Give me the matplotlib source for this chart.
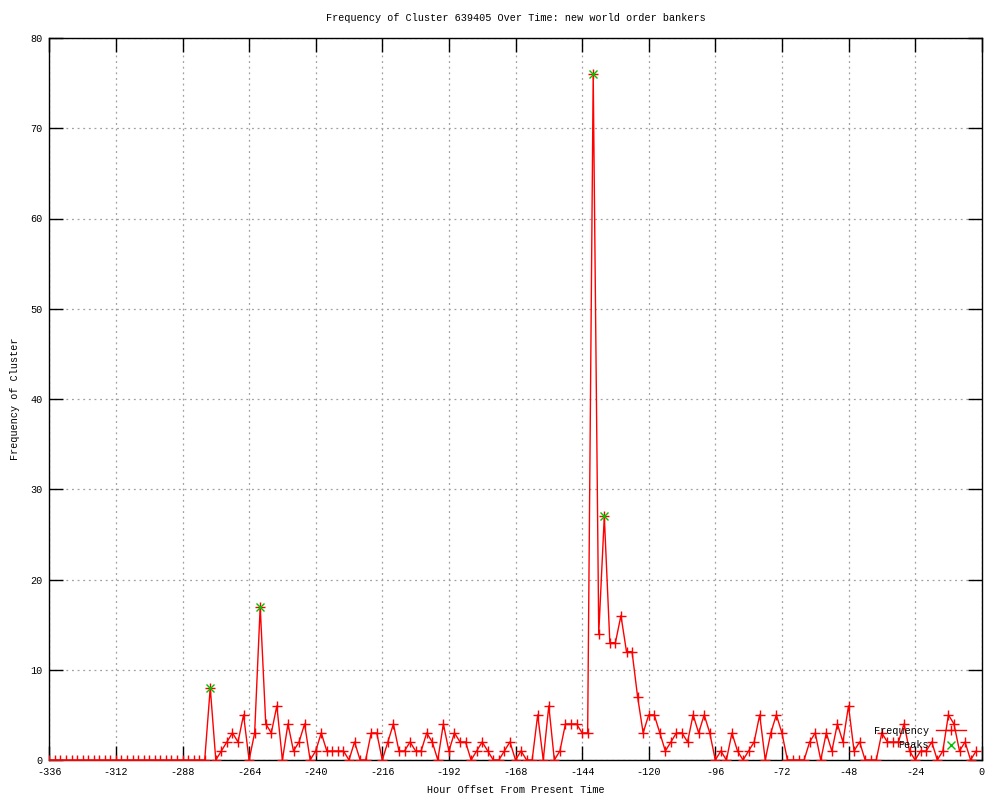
import numpy as np
import matplotlib

matplotlib.use("Agg")
import matplotlib.pyplot as plt


# hour offsets, one bin every 2 hours
hours = np.arange(-336, 0, 2)

# cluster frequency per bin, one row per 24 h
freq = [
    0, 0, 0, 0, 0, 0, 0, 0, 0, 0, 0, 0,          # -336 .. -314
    0, 0, 0, 0, 0, 0, 0, 0, 0, 0, 0, 0,          # -312 .. -290
    0, 0, 0, 0, 0, 8, 0, 1, 2, 3, 2, 5,          # -288 .. -266
    0, 3, 17, 4, 3, 6, 0, 4, 1, 2, 4, 0,         # -264 .. -242
    1, 3, 1, 1, 1, 1, 0, 2, 0, 0, 3, 3,          # -240 .. -218
    0, 2, 4, 1, 1, 2, 1, 1, 3, 2, 0, 4,          # -216 .. -194
    1, 3, 2, 2, 0, 1, 2, 1, 0, 0, 1, 2,          # -192 .. -170
    0, 1, 0, 0, 5, 0, 6, 0, 1, 4, 4, 4,          # -168 .. -146
    3, 3, 76, 14, 27, 13, 13, 16, 12, 12, 7, 3,  # -144 .. -122
    5, 5, 3, 1, 2, 3, 3, 2, 5, 3, 5, 3,          # -120 .. -98
    0, 1, 0, 3, 1, 0, 1, 2, 5, 0, 3, 5,          # -96 .. -74
    3, 0, 0, 0, 0, 2, 3, 0, 3, 1, 4, 2,          # -72 .. -50
    6, 1, 2, 0, 0, 0, 3, 2, 2, 2, 4, 1,          # -48 .. -26
    0, 1, 1, 2, 0, 1, 5, 4, 1, 2, 0, 1,          # -24 .. -2
]

peak_hours = [-278, -260, -140, -136]
peak_freq = [8, 17, 76, 27]

x_ticks = np.arange(-336, 1, 24)
y_ticks = np.arange(0, 81, 10)

plt.rcParams["font.family"] = ["Liberation Mono", "DejaVu Sans Mono"]
plt.rcParams["font.size"] = 7.3
plt.rcParams["axes.unicode_minus"] = False

fig = plt.figure(figsize=(10, 8), dpi=100)
ax = fig.add_axes([0.0493, 0.05, 0.9324, 0.9025])

ax.plot(hours, freq, color="red", lw=1.0, marker="+", ms=7, mew=1.0,
        label="Frequency", zorder=3)
ax.plot(peak_hours, peak_freq, ls="none", color="#00c000", marker="x", ms=6,
        mew=1.0, label="Peaks", zorder=4)

ax.set_xlim(-336, 0)
ax.set_ylim(0, 80)
ax.set_xticks(x_ticks)
ax.set_yticks(y_ticks)
ax.tick_params(direction="in", length=10, width=1.0, top=True, right=True,
               pad=5, colors="black")
ax.grid(True, color="#a0a0a0", ls=(0, (1.5, 3)), lw=0.9)
for s in ax.spines.values():
    s.set_linewidth(1.0)

ax.set_xlabel("Hour Offset From Present Time", labelpad=6)
ax.set_ylabel("Frequency of Cluster", labelpad=7)
# title centred over the plot area, like gnuplot does
ax.text(0.5, 1.0 + 20 / 722, "Frequency of Cluster 639405 Over Time: new world order bankers",
        transform=ax.transAxes, ha="center", va="center")

ax.legend(loc="lower right", bbox_to_anchor=(0.988, 0.008), frameon=False,
          markerfirst=False, handlelength=3.0, handletextpad=0.7,
          labelspacing=0.45, borderaxespad=0.0)

fig.savefig("out.png", dpi=100)
